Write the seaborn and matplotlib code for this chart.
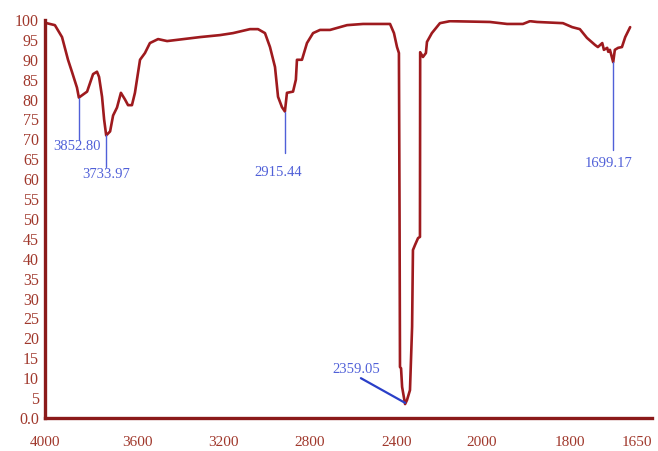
import numpy as np
import matplotlib
matplotlib.use('Agg')
import matplotlib.pyplot as plt
import seaborn as sns
import pandas as pd

# FTIR spectrum
wavenumber = [4000, 3957, 3926, 3900, 3883, 3861, 3852.8, 3817, 3791, 3774, 3765, 3752,
              3743, 3734, 3717, 3704, 3687, 3670, 3652, 3639, 3622, 3609, 3586, 3563,
              3540, 3502, 3460, 3307, 3214, 3154, 3076, 3039, 3007, 2984, 2961, 2947,
              2929, 2915.4, 2906, 2878, 2865, 2860, 2837, 2814, 2786, 2754, 2708, 2630,
              2556, 2432, 2414, 2400, 2391, 2388, 2386, 2381, 2376, 2367, 2362, 2353,
              2339, 2329, 2325, 2315, 2301, 2292, 2291, 2278, 2264, 2259, 2236, 2198,
              2151, 1982, 1943, 1907, 1891, 1875, 1816, 1796, 1782, 1769, 1754, 1749,
              1741, 1738, 1732, 1730, 1727, 1721, 1718, 1712, 1705, 1699, 1690]
transmittance = [99.3, 98.7, 95.7, 90, 87, 83, 80.5, 82, 86.4, 87, 85.7, 80.7,
                 75, 71, 72, 76, 78, 81.7, 80, 78.6, 78.6, 81.7, 90, 91.7,
                 94.2, 95.2, 94.7, 95.7, 96.2, 96.7, 97.7, 97.7, 96.7, 93.2, 88.2, 80.7,
                 78.1, 77, 81.7, 82, 85, 90, 90, 94.2, 96.7, 97.5, 97.5, 98.7,
                 99, 99, 96.7, 93.2, 91.7, 50, 12.8, 12.5, 7.8, 5, 3.5, 4.5,
                 7, 22.9, 42.2, 43.5, 45.2, 45.5, 91.9, 90.7, 91.7, 94.5, 96.7, 99.2,
                 99.7, 99.5, 99, 99, 99.7, 99.5, 99.2, 98.2, 97.7, 95.5, 93.7, 93.2,
                 94.2, 92.5, 93, 92, 92.5, 89.4, 92.5, 93, 93.2, 95.7, 98.2]

peak_labels = ['3852.80', '3733.97', '2915.44', '2359.05', '1699.17']
peak_x = [3853, 3734, 2915, 2362, 1721]
peak_y = [80.5, 71, 77, 3.5, 89.4]

x_ticks = [4000, 3600, 3200, 2800, 2400, 2000, 1800, 1650]
y_ticks = list(range(0, 101, 5))

# uneven wavenumber axis: relative spot of each tick, counted from the 1650 end
wn_asc = x_ticks[::-1]
tick_pos = [0, 82, 170, 255, 342, 429, 515, 607]


def forward(w):
    return np.interp(w, wn_asc, tick_pos)


def inverse(p):
    return np.interp(p, tick_pos, wn_asc)


sns.set_style('white')
plt.rcParams['font.family'] = ['Liberation Serif', 'DejaVu Serif']

axis_col = '#8b1a1a'
line_col = '#9e1a1e'
label_col = '#a0382c'
blue = '#5060d8'

fig = plt.figure(figsize=(6.58, 4.51), dpi=100)
ax = fig.add_axes([0.0684, 0.0732, 0.9225, 0.8825])

df = pd.DataFrame({'wn': wavenumber, 't': transmittance})
sns.lineplot(data=df, x='wn', y='t', ax=ax, color=line_col, lw=1.9,
             sort=False, estimator=None)

ax.set_xscale('function', functions=(forward, inverse))
ax.set_xlim(4000, 1650)
ax.set_ylim(0, 100)

ax.set_xticks(x_ticks)
ax.set_xticklabels([str(v) for v in x_ticks])
ax.set_yticks(y_ticks)
ax.set_yticklabels(['0.0'] + [str(v) for v in y_ticks[1:]])
ax.set_xlabel('')
ax.set_ylabel('')
# last label would run off the right edge
ax.get_xticklabels()[-1].set_ha('right')

for s in ['top', 'right']:
    ax.spines[s].set_visible(False)
for s in ['left', 'bottom']:
    ax.spines[s].set_color(axis_col)
    ax.spines[s].set_linewidth(2.4)

ax.tick_params(axis='x', direction='out', length=8, width=2.2, color=axis_col,
               labelcolor=label_col, labelsize=11, pad=5)
ax.tick_params(axis='y', direction='out', length=4, width=2.0, color=axis_col,
               labelcolor=label_col, labelsize=11.5, pad=0.5)

# peak annotations
line_end = [69.8, 63, 66.5, None, 67.3]
text_x = [3861, 3733, 2947, 2588, 1730]
text_y = [68.1, 61.3, 61.6, 12.3, 64]
for lab, px, py, le, tx, ty in zip(peak_labels, peak_x, peak_y, line_end, text_x, text_y):
    if le is None:
        ax.plot([2566, px], [10, py + 0.3], color='#2a3fc8', lw=1.6)
    else:
        ax.plot([px, px], [py, le], color=blue, lw=1.0)
    ax.text(tx, ty, lab, color=blue, fontsize=10.5, ha='center', va='center')

fig.savefig('out.png', dpi=100)
